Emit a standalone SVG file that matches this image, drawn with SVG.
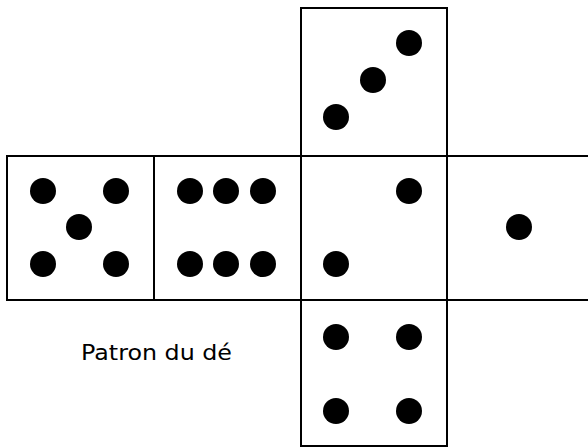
<svg xmlns="http://www.w3.org/2000/svg" width="588" height="448" viewBox="0 0 588 448">
<style>
.face{fill:#fff;stroke:#000;stroke-width:2}
.edge{fill:none;stroke:#000;stroke-width:2}
.dot{fill:#000}
.lbl{font-family:"DejaVu Sans",sans-serif;font-size:22px;fill:#000}
</style>
<rect width="588" height="448" fill="#fff"/>
<g id="face-three">
<rect class="face" x="301" y="8" width="146" height="148"/>
<circle class="dot" cx="409" cy="43" r="13"/>
<circle class="dot" cx="373" cy="80" r="13"/>
<circle class="dot" cx="336" cy="117" r="13"/>
</g>
<g id="face-five">
<rect class="face" x="7" y="156" width="147" height="144"/>
<circle class="dot" cx="43" cy="191" r="13"/>
<circle class="dot" cx="116" cy="191" r="13"/>
<circle class="dot" cx="79" cy="227" r="13"/>
<circle class="dot" cx="43" cy="264" r="13"/>
<circle class="dot" cx="116" cy="264" r="13"/>
</g>
<g id="face-six">
<rect class="face" x="154" y="156" width="147" height="144"/>
<circle class="dot" cx="190" cy="191" r="13"/>
<circle class="dot" cx="226" cy="191" r="13"/>
<circle class="dot" cx="263" cy="191" r="13"/>
<circle class="dot" cx="190" cy="264" r="13"/>
<circle class="dot" cx="226" cy="264" r="13"/>
<circle class="dot" cx="263" cy="264" r="13"/>
</g>
<g id="face-two">
<rect class="face" x="301" y="156" width="146" height="144"/>
<circle class="dot" cx="409" cy="191" r="13"/>
<circle class="dot" cx="336" cy="264" r="13"/>
</g>
<g id="face-one">
<path class="edge" d="M447 156H589M447 300H589"/>
<circle class="dot" cx="519" cy="227" r="13"/>
</g>
<g id="face-four">
<rect class="face" x="301" y="300" width="146" height="146"/>
<circle class="dot" cx="336" cy="337" r="13"/>
<circle class="dot" cx="409" cy="337" r="13"/>
<circle class="dot" cx="336" cy="411" r="13"/>
<circle class="dot" cx="409" cy="411" r="13"/>
</g>
<g id="caption">
<text class="lbl" x="81" y="360" textLength="151" lengthAdjust="spacingAndGlyphs">Patron du dé</text>
</g>
</svg>
